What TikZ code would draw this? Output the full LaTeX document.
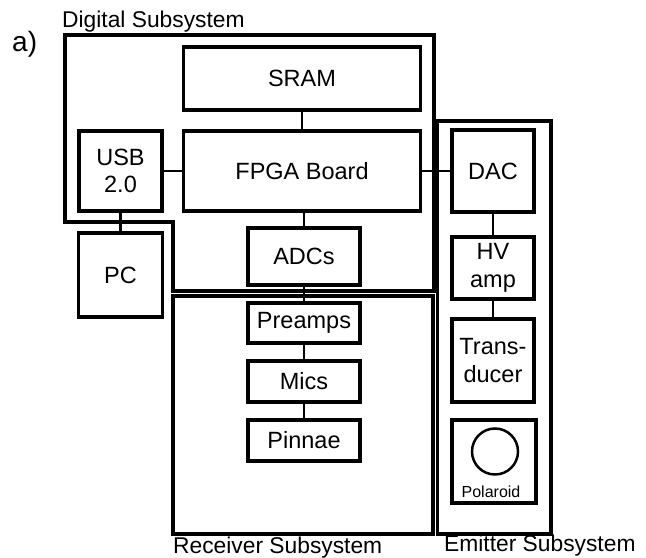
\documentclass[tikz,border=0pt]{standalone}
\usepackage{fontspec}
\setmainfont{Liberation Sans}
\tikzset{
  blk/.style={draw, line width=3.1bp, inner sep=0pt, align=center, font=\fontsize{23.5bp}{27.5bp}\selectfont},
  wire/.style={line width=2.8bp},
  subsys/.style={draw, line width=3.1bp},
  lbl/.style={anchor=base west, inner sep=0pt, font=\fontsize{22.8bp}{27bp}\selectfont},
}

\begin{document}
\begin{tikzpicture}[x=1bp, y=-1bp]
  \useasboundingbox (0,0) rectangle (646,558);

  % subsystem outlines
  \draw[subsys] (65,35) -- (434,35) -- (434,291) -- (173,291) -- (173,222) -- (65,222) -- cycle;
  \draw[subsys] (173,296) rectangle (433,534);
  \draw[subsys] (437.5,121) rectangle (551,534);

  \node[lbl] (diglbl) at (62,28) {Digital Subsystem};
  \node[lbl] (reclbl) at (173,553) {Receiver Subsystem};
  \node[lbl] (emilbl) at (444,551) {Emitter Subsystem};
  \node[lbl, font=\fontsize{28bp}{32bp}\selectfont] (tag) at (12,52) {a)};

  % digital
  \node[blk, minimum width=237bp, minimum height=63bp] (sram) at (302,78.5) {SRAM};
  \node[blk, minimum width=237bp, minimum height=80bp] (fpga) at (302,171) {FPGA Board};
  \node[blk, minimum width=83bp, minimum height=80bp] (usb) at (120.5,171) {USB\\2.0};
  \node[blk, minimum width=112bp, minimum height=57bp] (adcs) at (304,256.5) {ADCs};
  \node[blk, minimum width=84bp, minimum height=84bp] (pc) at (120.5,275) {PC};

  % receiver
  \node[blk, minimum width=112bp, minimum height=40bp] (preamps) at (304,323) {Preamps};
  \node[blk, minimum width=112bp, minimum height=41bp] (mics) at (304,381.5) {Mics};
  \node[blk, minimum width=112bp, minimum height=41bp] (pinnae) at (304,440.5) {Pinnae};

  % emitter
  \node[blk, minimum width=82bp, minimum height=82bp] (dac) at (493,171) {DAC};
  \node[blk, minimum width=82bp, minimum height=62bp] (hvamp) at (493,268) {HV\\amp};
  \node[blk, minimum width=82bp, minimum height=83bp] (trans) at (493,360.5) {Trans-\\ducer};
  \node[blk, minimum width=84bp, minimum height=83bp] (polbox) at (494,461.5) {};
  \node[draw, circle, line width=2.5bp, minimum size=46bp, inner sep=0pt] (lens) at (495,451.5) {};
  \node[anchor=base, inner sep=0pt, font=\fontsize{16bp}{18bp}\selectfont] (pol) at (491,497) {Polaroid};

  \draw[wire] (sram) -- (fpga);
  \draw[wire] (adcs.north) -- (adcs.north |- fpga.south);
  \draw[wire] (usb) -- (fpga);
  \draw[wire] (usb) -- (pc);
  \draw[wire] (fpga) -- (dac);
  \draw[wire] (adcs) -- (preamps);
  \draw[wire] (preamps) -- (mics);
  \draw[wire] (mics) -- (pinnae);
  \draw[wire] (dac) -- (hvamp);
  \draw[wire] (hvamp) -- (trans);

\end{tikzpicture}
\end{document}
